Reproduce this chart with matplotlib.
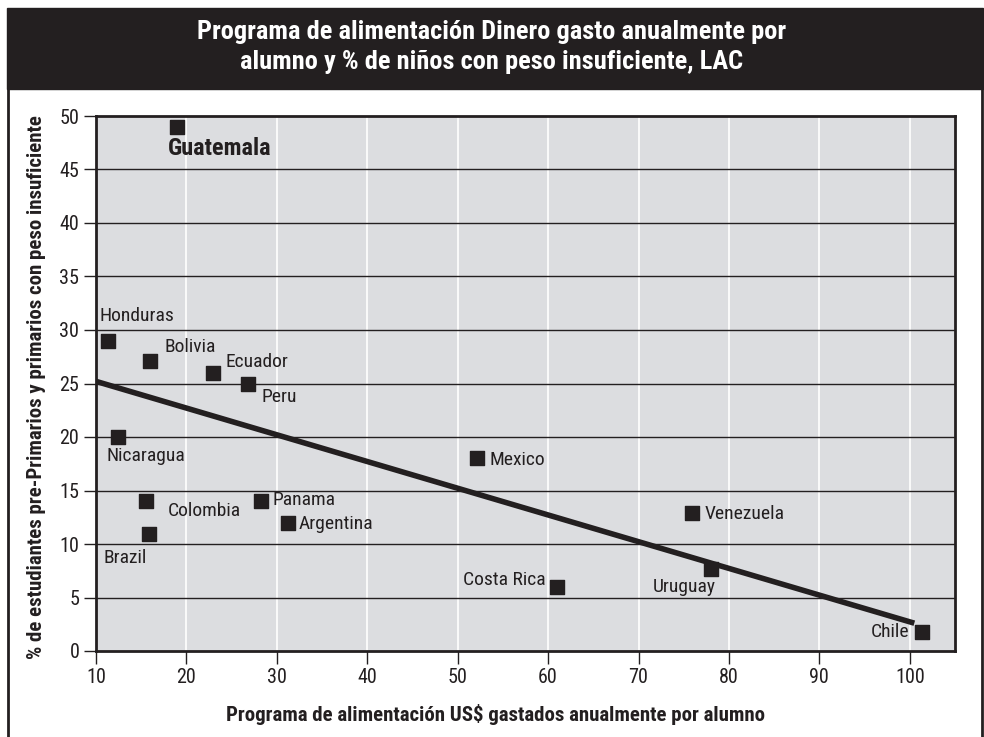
import matplotlib.pyplot as plt
from matplotlib import font_manager
from matplotlib.patches import Rectangle
from matplotlib.lines import Line2D

available = {f.name for f in font_manager.fontManager.ttflist}
for fam in ['Roboto Condensed', 'Liberation Sans Narrow', 'Archivo Narrow', 'PT Sans Narrow',
            'Open Sans Condensed', 'Liberation Sans']:
    if fam in available:
        break
plt.rcParams['font.family'] = [fam, 'DejaVu Sans']

countries = ['Guatemala', 'Honduras', 'Bolivia', 'Ecuador', 'Peru', 'Nicaragua',
             'Mexico', 'Colombia', 'Panama', 'Argentina', 'Brazil', 'Venezuela',
             'Costa Rica', 'Uruguay', 'Chile']
spend = [19, 11.3, 16, 22.9, 26.8, 12.4, 52.1, 15.5, 28.3, 31.2, 15.9, 75.9, 61, 78, 101.3]
underweight = [49, 29, 27.1, 26, 25, 20, 18, 14, 14, 12, 10.9, 12.9, 6, 7.7, 1.8]
# label offsets in points (dx, dy) and alignment
label_pos = {
    'Guatemala': (-7, -16, 'left'),
    'Honduras': (-6, 18, 'left'),
    'Bolivia': (10, 10, 'left'),
    'Ecuador': (9, 8, 'left'),
    'Peru': (10, -10, 'left'),
    'Nicaragua': (-8, -14, 'left'),
    'Mexico': (9, -1, 'left'),
    'Colombia': (16, -7, 'left'),
    'Panama': (8, 1, 'left'),
    'Argentina': (8, -1, 'left'),
    'Brazil': (-33, -17, 'left'),
    'Venezuela': (9, -1, 'left'),
    'Costa Rica': (-8, 5, 'right'),
    'Uruguay': (-42, -13, 'left'),
    'Chile': (-9, 0, 'right'),
}
trend_x = [10, 100.5]
trend_y = [25.2, 2.6]

dark = '#231f20'
fig = plt.figure(figsize=(9.84, 7.37), dpi=100)

# title bar and outer frame
fig.patches.append(Rectangle((7 / 984, 1 - 89 / 737), 976 / 984, 81 / 737,
                             transform=fig.transFigure, color=dark, zorder=0))
fig.lines.append(Line2D([8 / 984, 8 / 984], [0, 1 - 89 / 737], transform=fig.transFigure,
                        color=dark, lw=2))
fig.lines.append(Line2D([982 / 984, 982 / 984], [0, 1 - 89 / 737], transform=fig.transFigure,
                        color=dark, lw=2))
fig.text(0.5, 1 - 47 / 737, 'Programa de alimentación Dinero gasto anualmente por\n'
         'alumno y % de niños con peso insuficiente, LAC',
         color='white', fontsize=19, fontweight='bold', ha='center', va='center',
         linespacing=1.33)

ax = fig.add_axes([96 / 984, 1 - 651 / 737, 859 / 984, 535 / 737])
ax.set_facecolor('#dcdde0')
ax.set_xlim(10, 105)
ax.set_ylim(0, 50)
ax.set_xticks(range(10, 101, 10))
ax.set_yticks(range(0, 51, 5))
for x in range(20, 101, 10):
    ax.axvline(x, color='white', lw=1.2, zorder=1)
for y in range(5, 50, 5):
    ax.axhline(y, color=dark, lw=1, zorder=1)
for s in ax.spines.values():
    s.set_color(dark)
    s.set_linewidth(2)
ax.tick_params(direction='out', length=9, width=1, color=dark, labelsize=14.5,
               labelcolor=dark, pad=3)

ax.plot(trend_x, trend_y, color=dark, lw=4, solid_capstyle='butt', zorder=3)
ax.scatter(spend, underweight, marker='s', s=110, color=dark, zorder=4)

for c, x, y in zip(countries, spend, underweight):
    dx, dy, ha = label_pos[c]
    bold = c == 'Guatemala'
    ax.annotate(c, (x, y), xytext=(dx, dy), textcoords='offset points',
                ha=ha, va='center', fontsize=17.5 if bold else 14,
                fontweight='bold' if bold else 'normal', color=dark, zorder=5)

ax.set_xlabel('Programa de alimentación US$ gastados anualmente por alumno',
              fontsize=15, fontweight='bold', color=dark)
ax.set_ylabel('% de estudiantes pre-Primarios y primarios con peso insuficiente',
              fontsize=15, fontweight='bold', color=dark)
ax.xaxis.set_label_coords(0.4645, -0.099)
ax.yaxis.set_label_coords(-0.058, 0.493)

fig.savefig('out.png', dpi=100)
